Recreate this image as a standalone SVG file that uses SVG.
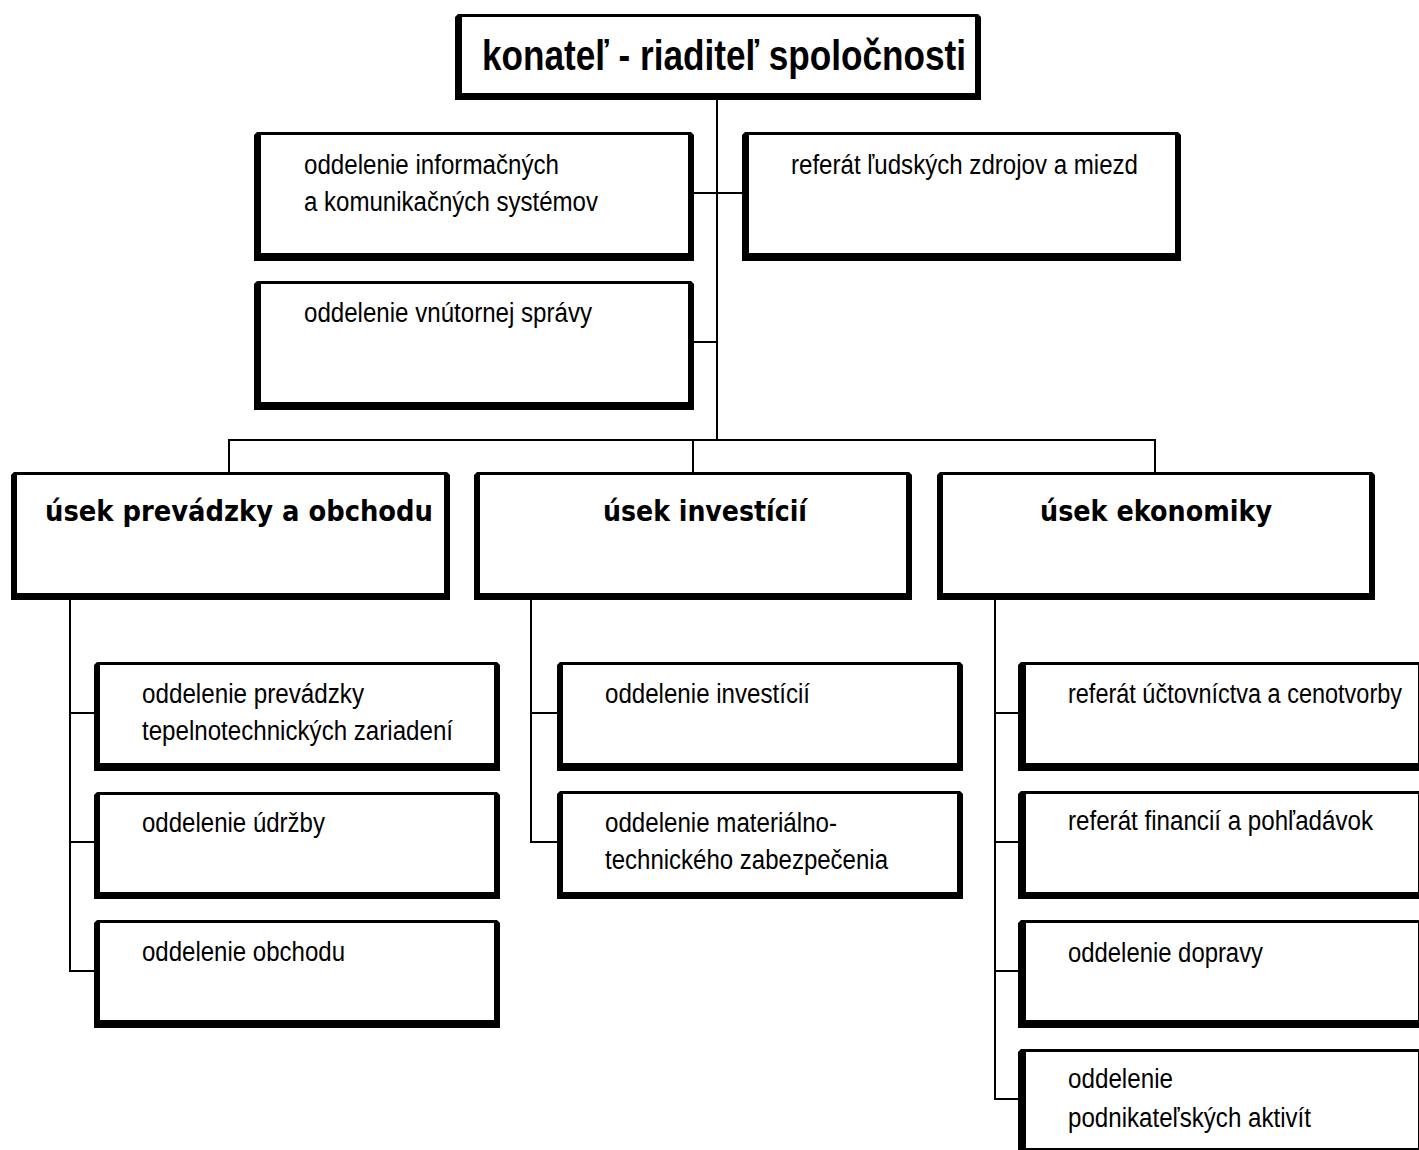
<svg xmlns="http://www.w3.org/2000/svg" width="1419" height="1150" viewBox="0 0 1419 1150">
<style>
.frame{fill:#000}
.inner{fill:#fff}
.conn line{stroke:#000;stroke-width:2;fill:none}
.t{font-family:"Liberation Sans",Arial,sans-serif;font-size:27px;fill:#000}
.h{font-family:"DejaVu Sans",Verdana,sans-serif;font-weight:bold;font-size:28px;fill:#000}
.top{font-family:"Liberation Sans",Arial,sans-serif;font-weight:bold;font-size:43px;fill:#000}
</style>
<rect x="0" y="0" width="1419" height="1150" fill="#fff"/>
<g id="connectors" class="conn">
<line x1="717" y1="100" x2="717" y2="441"/>
<line x1="694" y1="193" x2="742" y2="193"/>
<line x1="694" y1="342" x2="717" y2="342"/>
<line x1="229" y1="440" x2="1156" y2="440"/>
<line x1="229" y1="439" x2="229" y2="472"/>
<line x1="693" y1="440" x2="693" y2="472"/>
<line x1="1155" y1="439" x2="1155" y2="472"/>
<line x1="70" y1="600" x2="70" y2="972"/>
<line x1="69" y1="713" x2="94" y2="713"/>
<line x1="69" y1="842" x2="94" y2="842"/>
<line x1="69" y1="971" x2="94" y2="971"/>
<line x1="531" y1="600" x2="531" y2="843"/>
<line x1="530" y1="713" x2="557" y2="713"/>
<line x1="530" y1="842" x2="557" y2="842"/>
<line x1="995" y1="600" x2="995" y2="1100"/>
<line x1="994" y1="713" x2="1018" y2="713"/>
<line x1="994" y1="842" x2="1018" y2="842"/>
<line x1="994" y1="971" x2="1018" y2="971"/>
<line x1="994" y1="1099" x2="1018" y2="1099"/>
</g>
<g id="n-konatel">
<path class="frame" d="M455,17 L458,14 L978,14 L981,17 L981,100 L455,100 Z"/>
<rect class="inner" x="462" y="17" width="513" height="76"/>
<text class="top" x="482" y="70" textLength="484" lengthAdjust="spacingAndGlyphs">konateľ - riaditeľ spoločnosti</text>
</g>
<g id="n-informacne">
<path class="frame" d="M254,135 L257,132 L691,132 L694,135 L694,261 L254,261 Z"/>
<rect class="inner" x="261" y="135" width="427" height="118"/>
<text class="t" x="304" y="174" textLength="255" lengthAdjust="spacingAndGlyphs">oddelenie informačných</text>
<text class="t" x="304" y="211" textLength="294" lengthAdjust="spacingAndGlyphs">a komunikačných systémov</text>
</g>
<g id="n-ludske">
<path class="frame" d="M742,135 L745,132 L1178,132 L1181,135 L1181,261 L742,261 Z"/>
<rect class="inner" x="749" y="135" width="426" height="118"/>
<text class="t" x="791" y="174" textLength="347" lengthAdjust="spacingAndGlyphs">referát ľudských zdrojov a miezd</text>
</g>
<g id="n-vnutorna">
<path class="frame" d="M254,284 L257,281 L691,281 L694,284 L694,410 L254,410 Z"/>
<rect class="inner" x="261" y="284" width="427" height="118"/>
<text class="t" x="304" y="322" textLength="288" lengthAdjust="spacingAndGlyphs">oddelenie vnútornej správy</text>
</g>
<g id="n-usek-prevadzky">
<path class="frame" d="M11,475 L14,472 L447,472 L450,475 L450,600 L11,600 Z"/>
<rect class="inner" x="17" y="475" width="427" height="118"/>
<text class="h" x="45" y="521" textLength="388" lengthAdjust="spacingAndGlyphs">úsek prevádzky a obchodu</text>
</g>
<g id="n-usek-investicii">
<path class="frame" d="M474,475 L477,472 L909,472 L912,475 L912,600 L474,600 Z"/>
<rect class="inner" x="480" y="475" width="426" height="118"/>
<text class="h" x="603" y="521" textLength="204" lengthAdjust="spacingAndGlyphs">úsek investícií</text>
</g>
<g id="n-usek-ekonomiky">
<path class="frame" d="M937,475 L940,472 L1372,472 L1375,475 L1375,600 L937,600 Z"/>
<rect class="inner" x="943" y="475" width="426" height="118"/>
<text class="h" x="1040" y="521" textLength="232" lengthAdjust="spacingAndGlyphs">úsek ekonomiky</text>
</g>
<g id="n-prevadzka">
<path class="frame" d="M94,665 L97,662 L497,662 L500,665 L500,771 L94,771 Z"/>
<rect class="inner" x="100" y="665" width="394" height="98"/>
<text class="t" x="142" y="703" textLength="222" lengthAdjust="spacingAndGlyphs">oddelenie prevádzky</text>
<text class="t" x="142" y="740" textLength="311" lengthAdjust="spacingAndGlyphs">tepelnotechnických zariadení</text>
</g>
<g id="n-udrzba">
<path class="frame" d="M94,795 L97,792 L497,792 L500,795 L500,899 L94,899 Z"/>
<rect class="inner" x="100" y="795" width="394" height="97"/>
<text class="t" x="142" y="832" textLength="183" lengthAdjust="spacingAndGlyphs">oddelenie údržby</text>
</g>
<g id="n-obchod">
<path class="frame" d="M94,923 L97,920 L497,920 L500,923 L500,1028 L94,1028 Z"/>
<rect class="inner" x="100" y="923" width="394" height="97"/>
<text class="t" x="142" y="961" textLength="203" lengthAdjust="spacingAndGlyphs">oddelenie obchodu</text>
</g>
<g id="n-investicie">
<path class="frame" d="M557,665 L560,662 L960,662 L963,665 L963,771 L557,771 Z"/>
<rect class="inner" x="563" y="665" width="394" height="98"/>
<text class="t" x="605" y="703" textLength="205" lengthAdjust="spacingAndGlyphs">oddelenie investícií</text>
</g>
<g id="n-mts">
<path class="frame" d="M557,794 L560,791 L960,791 L963,794 L963,899 L557,899 Z"/>
<rect class="inner" x="563" y="794" width="394" height="98"/>
<text class="t" x="605" y="832" textLength="232" lengthAdjust="spacingAndGlyphs">oddelenie materiálno-</text>
<text class="t" x="605" y="869" textLength="283" lengthAdjust="spacingAndGlyphs">technického zabezpečenia</text>
</g>
<g id="n-uctovnictvo">
<path class="frame" d="M1018,665 L1021,662 L1419,662 L1419,771 L1018,771 Z"/>
<rect class="inner" x="1026" y="665" width="392" height="98"/>
<text class="t" x="1068" y="703" textLength="334" lengthAdjust="spacingAndGlyphs">referát účtovníctva a cenotvorby</text>
</g>
<g id="n-financie">
<path class="frame" d="M1018,794 L1021,791 L1419,791 L1419,899 L1018,899 Z"/>
<rect class="inner" x="1026" y="794" width="392" height="98"/>
<text class="t" x="1068" y="830" textLength="305" lengthAdjust="spacingAndGlyphs">referát financií a pohľadávok</text>
</g>
<g id="n-doprava">
<path class="frame" d="M1018,923 L1021,920 L1419,920 L1419,1028 L1018,1028 Z"/>
<rect class="inner" x="1026" y="923" width="392" height="97"/>
<text class="t" x="1068" y="962" textLength="195" lengthAdjust="spacingAndGlyphs">oddelenie dopravy</text>
</g>
<g id="n-podnikatelske">
<path class="frame" d="M1018,1052 L1021,1049 L1419,1049 L1419,1150 L1018,1150 Z"/>
<rect class="inner" x="1026" y="1052" width="392" height="96"/>
<text class="t" x="1068" y="1088" textLength="105" lengthAdjust="spacingAndGlyphs">oddelenie</text>
<text class="t" x="1068" y="1127" textLength="243" lengthAdjust="spacingAndGlyphs">podnikateľských aktivít</text>
</g>
</svg>
